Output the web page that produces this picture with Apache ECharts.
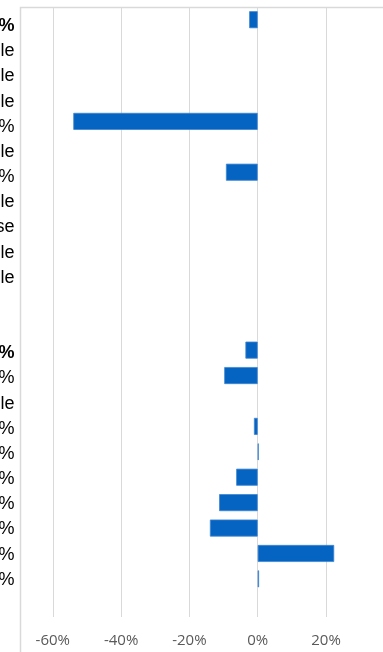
<!DOCTYPE html>
<html>
<head>
<meta charset="utf-8">
<script src="https://cdn.jsdelivr.net/npm/echarts@6/dist/echarts.min.js"></script>
<style>
  html, body { margin: 0; padding: 0; background: #ffffff; }
  #chart { width: 383px; height: 652px; }
</style>
</head>
<body>
<div id="chart"></div>
<script>
// Row labels (table column to the left of the chart), top to bottom
const rowLabels = [
  '-2.5%', 'Not applicable', 'Not applicable', 'Not applicable', '-54.0%',
  'Not applicable', '-9.3%', 'Not applicable', 'Not in use', 'Not applicable',
  'Not applicable', '', '',
  '-3.6%', '-9.8%', 'Not applicable', '-1.1%', '0.3%', '-6.3%',
  '-11.3%', '-14.0%', '22.4%', '0.4%', ''
];
// Rows printed in bold (group totals)
const boldRows = [0, 13];
// Percentage change per row; null where there is no value
const changes = [
  -2.5, null, null, null, -54.0,
  null, -9.3, null, null, null,
  null, null, null,
  -3.6, -9.8, null, -1.1, 0.3, -6.3,
  -11.3, -14.0, 22.4, 0.4, null
];
// Value-axis ticks
const tickValues = [-80, -60, -40, -20, 0, 20, 40];

const chart = echarts.init(document.getElementById('chart'), null, { renderer: 'canvas' });

const gridLine = '#d9d9d9';

chart.setOption({
  animation: false,
  backgroundColor: '#ffffff',
  grid: [
    { left: -15.5, right: -11.3, top: 7, bottom: 35, outerBoundsMode: 'none', containLabel: false },
    { left: 14.5, width: 10, top: 13.6, height: 604, outerBoundsMode: 'none', containLabel: false }
  ],
  xAxis: [
    {
      type: 'value',
      gridIndex: 0,
      min: tickValues[0],
      max: tickValues[tickValues.length - 1],
      interval: tickValues[1] - tickValues[0],
      axisLine: { show: false },
      axisTick: { show: false },
      splitLine: { show: true, lineStyle: { color: gridLine, width: 1 } },
      axisLabel: {
        showMinLabel: false,
        showMaxLabel: false,
        margin: 16,
        color: '#595959',
        fontFamily: 'Open Sans',
        fontSize: 15,
        formatter: v => v + '%'
      }
    },
    { type: 'value', gridIndex: 1, show: false }
  ],
  yAxis: [
    {
      type: 'category',
      gridIndex: 0,
      inverse: true,
      data: rowLabels.map((_, i) => 'row' + i),
      axisLine: { show: false },
      axisTick: { show: false },
      axisLabel: { show: false },
      splitLine: { show: false }
    },
    {
      type: 'category',
      gridIndex: 1,
      inverse: true,
      data: rowLabels,
      axisLine: { show: false },
      axisTick: { show: false },
      splitLine: { show: false },
      axisLabel: {
        margin: 0,
        align: 'right',
        color: '#000000',
        fontFamily: 'Liberation Sans',
        fontSize: 18,
        interval: 0,
        formatter: (value, index) => boldRows.includes(index) ? '{b|' + value + '}' : value,
        rich: {
          b: { fontWeight: 'bold', fontFamily: 'Liberation Sans', fontSize: 18, color: '#000000' }
        }
      }
    }
  ],
  series: [
    {
      type: 'bar',
      xAxisIndex: 0,
      yAxisIndex: 0,
      data: changes,
      barCategoryGap: '33%',
      itemStyle: {
        color: '#0563c1',
        borderColor: '#3f86d2',
        borderWidth: 0.8
      }
    }
  ],
  graphic: [
    {
      type: 'polyline',
      silent: true,
      shape: { points: [[20.5, 652], [20.5, 7.5], [383, 7.5]] },
      style: { stroke: gridLine, lineWidth: 1.5, fill: null }
    }
  ]
});
</script>
</body>
</html>
